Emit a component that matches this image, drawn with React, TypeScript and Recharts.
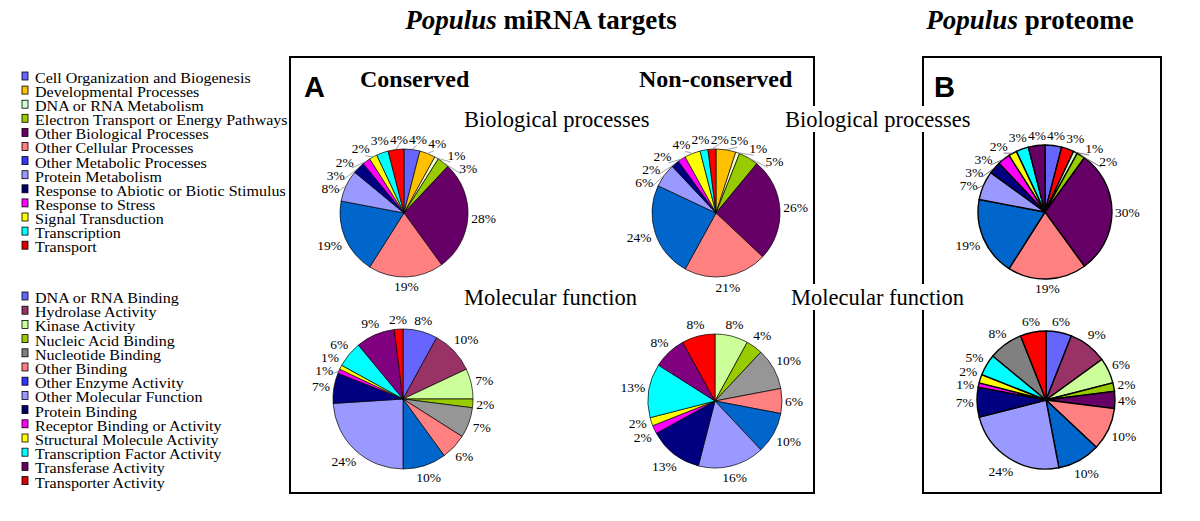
import React from 'react';
import { PieChart, Pie, Cell } from 'recharts';

const BP_CATEGORIES = [
  'Cell Organization and Biogenesis',
  'Developmental Processes',
  'DNA or RNA Metabolism',
  'Electron Transport or Energy Pathways',
  'Other Biological Processes',
  'Other Cellular Processes',
  'Other Metabolic Processes',
  'Protein Metabolism',
  'Response to Abiotic or Biotic Stimulus',
  'Response to Stress',
  'Signal Transduction',
  'Transcription',
  'Transport',
];

const MF_CATEGORIES = [
  'DNA or RNA Binding',
  'Hydrolase Activity',
  'Kinase Activity',
  'Nucleic Acid Binding',
  'Nucleotide Binding',
  'Other Binding',
  'Other Enzyme Activity',
  'Other Molecular Function',
  'Protein Binding',
  'Receptor Binding or Activity',
  'Structural Molecule Activity',
  'Transcription Factor Activity',
  'Transferase Activity',
  'Transporter Activity',
];

const BP_CONSERVED = [4, 4, 1, 3, 28, 19, 19, 8, 3, 2, 2, 3, 4];
const BP_NONCONSERVED = [0, 5, 1, 5, 26, 21, 24, 6, 2, 2, 4, 2, 2];
const BP_PROTEOME = [4, 3, 1, 2, 30, 19, 19, 7, 3, 3, 2, 3, 4];

const MF_CONSERVED = [8, 10, 7, 2, 7, 6, 10, 24, 7, 1, 1, 6, 9, 2];
const MF_NONCONSERVED = [0, 0, 8, 4, 10, 6, 10, 16, 13, 2, 2, 13, 8, 8];
const MF_PROTEOME = [6, 9, 6, 2, 4, 10, 10, 24, 7, 1, 2, 5, 8, 6];

const BP_LEGEND_COLORS = ['#6666FF', '#FFC000', '#CCFFCC', '#99CC00', '#660066', '#FF7C80', '#3333FF', '#9999FF', '#000066', '#FF00FF', '#FFFF00', '#00FFFF', '#DD0000'];
const MF_LEGEND_COLORS = ['#6666FF', '#993366', '#CCFF99', '#99CC00', '#808080', '#FF7C80', '#3333FF', '#9999FF', '#000066', '#FF00FF', '#FFFF00', '#00FFFF', '#660066', '#DD0000'];

const BP_PIE_COLORS = ['#6666FF', '#FFC000', '#F4FFCC', '#99CC00', '#660066', '#FF8080', '#0066CC', '#9999FF', '#000080', '#FF00FF', '#FFFF00', '#00FFFF', '#FF0000'];
const BP_PROTEOME_COLORS = ['#6666FF', '#FF0000', '#CCFFCC', '#99CC00', '#660066', '#FF8080', '#0066CC', '#9999FF', '#000080', '#FF00FF', '#FFFF00', '#00FFFF', '#660066'];
const MF_PIE_COLORS = ['#6666FF', '#993366', '#CCFF99', '#99CC00', '#969696', '#FF8080', '#0066CC', '#9999FF', '#000080', '#FF00FF', '#FFFF00', '#00FFFF', '#800080', '#FF0000'];
const MF_PROTEOME_COLORS = ['#6666FF', '#993366', '#CCFF99', '#99CC00', '#660066', '#FF8080', '#0066CC', '#9999FF', '#000080', '#FF00FF', '#FFFF00', '#00FFFF', '#808080', '#FF0000'];

const SERIF = '"Liberation Serif", "Times New Roman", serif';
const SANS = '"Liberation Sans", Arial, sans-serif';
const LABEL_FS = 13.5;

type Row = { name: string; value: number; fill: string };

const buildTable = (cats: string[], values: number[], colors: string[]): Row[] =>
  cats
    .map((name, i) => ({ name, value: values[i], fill: colors[i] }))
    .filter((d) => d.value > 0);

// Spread the percentage labels around the pie so that neighbours do not collide
const layoutLabels = (rows: Row[], r: number) => {
  const total = rows.reduce((s, d) => s + d.value, 0);
  let acc = 0;
  const items = rows.map((d) => {
    const mid = ((acc + d.value / 2) / total) * 360;
    acc += d.value;
    const txt = `${d.value}%`;
    const w = (txt.length - 1) * 0.5 * LABEL_FS + 0.833 * LABEL_FS;
    return { mid, theta: mid, hw: w / 2, hh: 6.5, txt };
  });
  const pos = (it: { theta: number; hw: number; hh: number }) => {
    const t = (it.theta * Math.PI) / 180;
    const ux = Math.sin(t);
    const uy = -Math.cos(t);
    const d = r + 3 + it.hw * Math.abs(ux) + it.hh * Math.abs(uy);
    return { x: d * ux, y: d * uy };
  };
  const n = items.length;
  for (let iter = 0; iter < 600; iter++) {
    let moved = false;
    for (let i = 0; i < n; i++) {
      const j = (i + 1) % n;
      const a = pos(items[i]);
      const b = pos(items[j]);
      if (
        Math.abs(a.x - b.x) < items[i].hw + items[j].hw + 1 &&
        Math.abs(a.y - b.y) < items[i].hh + items[j].hh
      ) {
        items[i].theta -= 0.25;
        items[j].theta += 0.25;
        moved = true;
      }
    }
    if (!moved) break;
  }
  return items.map((it) => ({ ...it, ...pos(it) }));
};

const makeLabel = (layout: ReturnType<typeof layoutLabels>, r: number, lineColor: string) => (props: any) => {
  const { cx, cy, index } = props;
  const it = layout[index];
  if (!it) return null;
  const showLine = Math.abs(it.theta - it.mid) > 3;
  const m = (it.mid * Math.PI) / 180;
  const t = (it.theta * Math.PI) / 180;
  return (
    <g>
      {showLine && (
        <polyline
          points={`${cx + r * Math.sin(m)},${cy - r * Math.cos(m)} ${cx + (r + 5) * Math.sin(t)},${cy - (r + 5) * Math.cos(t)}`}
          fill="none"
          stroke={lineColor}
          strokeWidth={0.8}
        />
      )}
      <text
        x={cx + it.x}
        y={cy + it.y}
        textAnchor="middle"
        dominantBaseline="central"
        fontFamily={SERIF}
        fontSize={LABEL_FS}
        fill="#000"
      >
        {it.txt}
      </text>
    </g>
  );
};

const PIE_SPECS = [
  { key: 'bpc', cats: BP_CATEGORIES, values: BP_CONSERVED, colors: BP_PIE_COLORS, cx: 399, cy: 208, r: 64, sw: 0.7, lc: '#888' },
  { key: 'bpn', cats: BP_CATEGORIES, values: BP_NONCONSERVED, colors: BP_PIE_COLORS, cx: 711, cy: 208, r: 64, sw: 0.7, lc: '#888' },
  { key: 'bpp', cats: BP_CATEGORIES, values: BP_PROTEOME, colors: BP_PROTEOME_COLORS, cx: 1040, cy: 207, r: 67, sw: 1.4, lc: '#555' },
  { key: 'mfc', cats: MF_CATEGORIES, values: MF_CONSERVED, colors: MF_PIE_COLORS, cx: 398, cy: 394, r: 70, sw: 0.7, lc: '#888' },
  { key: 'mfn', cats: MF_CATEGORIES, values: MF_NONCONSERVED, colors: MF_PIE_COLORS, cx: 710, cy: 396, r: 67, sw: 0.7, lc: '#888' },
  { key: 'mfp', cats: MF_CATEGORIES, values: MF_PROTEOME, colors: MF_PROTEOME_COLORS, cx: 1041, cy: 395, r: 69, sw: 1.4, lc: '#888' },
];

const PIES = PIE_SPECS.map((s) => {
  const data = buildTable(s.cats, s.values, s.colors);
  return { ...s, data, label: makeLabel(layoutLabels(data, s.r), s.r, s.lc) };
});

const Legend = ({ cats, colors, y0, step }: { cats: string[]; colors: string[]; y0: number; step: number }) => (
  <g>
    {cats.map((c, i) => (
      <g key={c}>
        <rect x={22} y={y0 + i * step - 11} width={6} height={8} fill={colors[i]} stroke="#000" strokeWidth={0.8} />
        <g transform="translate(35,0) scale(1.07,1)">
          <text x={0} y={y0 + i * step} fontFamily={SERIF} fontSize={15} fill="#000">
            {c}
          </text>
        </g>
      </g>
    ))}
  </g>
);

export default function App() {
  return (
    <div style={{ position: 'absolute', left: 0, top: 0, width: 1200, height: 521, background: '#fff' }}>
      <svg width={1200} height={521} style={{ position: 'absolute', left: 0, top: 0 }}>
        <rect x={290} y={57} width={524} height={436} fill="none" stroke="#000" strokeWidth={2} />
        <rect x={923} y={57} width={238} height={436} fill="none" stroke="#000" strokeWidth={2} />
      </svg>
      <div style={{ position: 'absolute', left: 0, top: 0 }}>
        <PieChart width={1200} height={521}>
          {PIES.map((p) => (
            <Pie
              key={p.key}
              data={p.data}
              dataKey="value"
              nameKey="name"
              cx={p.cx}
              cy={p.cy}
              outerRadius={p.r}
              startAngle={90}
              endAngle={-270}
              stroke="#000"
              strokeWidth={p.sw}
              label={p.label}
              labelLine={false}
              isAnimationActive={false}
            >
              {p.data.map((d) => (
                <Cell key={d.name} fill={d.fill} stroke="#000" strokeWidth={p.sw} />
              ))}
            </Pie>
          ))}
        </PieChart>
      </div>
      <svg width={1200} height={521} style={{ position: 'absolute', left: 0, top: 0, pointerEvents: 'none' }}>
        <text x={541} y={29} textAnchor="middle" fontFamily={SERIF} fontSize={27} fontWeight="bold" fill="#000">
          <tspan fontStyle="italic">Populus</tspan> miRNA targets
        </text>
        <text x={1030} y={29} textAnchor="middle" fontFamily={SERIF} fontSize={27} fontWeight="bold" fill="#000">
          <tspan fontStyle="italic">Populus</tspan> proteome
        </text>
        <text x={304} y={97} fontFamily={SANS} fontSize={29} fontWeight="bold" fill="#000">A</text>
        <text x={934} y={97} fontFamily={SANS} fontSize={29} fontWeight="bold" fill="#000">B</text>
        <text x={360} y={87} fontFamily={SERIF} fontSize={24} fontWeight="bold" fill="#000">Conserved</text>
        <text x={639} y={87} fontFamily={SERIF} fontSize={24} fontWeight="bold" fill="#000">Non-conserved</text>

        <text x={464} y={127} fontFamily={SERIF} fontSize={22.5} fill="#000">Biological processes</text>
        <rect x={782} y={106} width={190} height={26} fill="#fff" />
        <text x={785} y={127} fontFamily={SERIF} fontSize={22.5} fill="#000">Biological processes</text>

        <text x={464} y={305} fontFamily={SERIF} fontSize={22.5} fill="#000">Molecular function</text>
        <rect x={788} y={284} width={182} height={26} fill="#fff" />
        <text x={791} y={305} fontFamily={SERIF} fontSize={22.5} fill="#000">Molecular function</text>

        <Legend cats={BP_CATEGORIES} colors={BP_LEGEND_COLORS} y0={83} step={14.1} />
        <Legend cats={MF_CATEGORIES} colors={MF_LEGEND_COLORS} y0={303} step={14.2} />
      </svg>
    </div>
  );
}
